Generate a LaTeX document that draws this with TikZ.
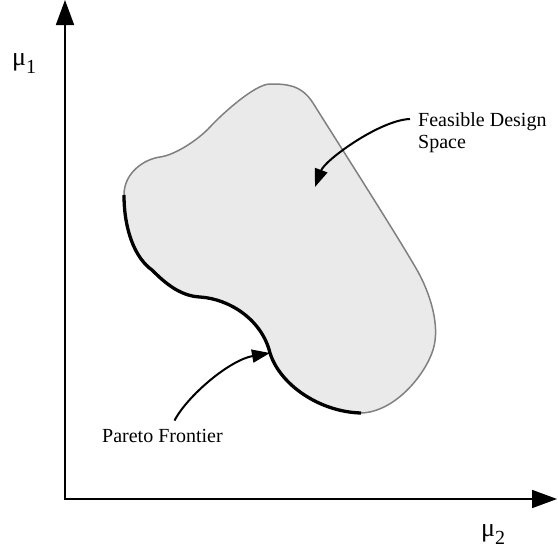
\documentclass[tikz,border=0pt]{standalone}
\usepackage{fontspec}
\setmainfont{Liberation Serif}
\usetikzlibrary{arrows.meta}
\definecolor{blobfill}{RGB}{234,234,234}
\definecolor{blobline}{RGB}{128,128,128}

\newcommand{\axlabel}[1]{{\fontsize{26}{26}\selectfont μ}\raisebox{-8pt}{\fontsize{20}{20}\selectfont #1}}

\begin{document}
\begin{tikzpicture}[x=1pt,y=-1pt,
  axis/.style={line width=1.8pt,{Triangle[length=25pt,width=18pt]}-{Triangle[length=25pt,width=18pt]}},
  outline/.style={draw=blobline,fill=blobfill,line width=1.5pt},
  frontier/.style={line width=3.3pt,line cap=butt},
  callout/.style={line width=2pt,-{Triangle[length=18pt,width=13pt]}},
  lbl/.style={font=\fontsize{20}{22}\selectfont,inner sep=0pt}]
  \useasboundingbox (0,0) rectangle (558,554);

  %--- Axes ---
  \coordinate (origin) at (65,499);
  \coordinate (ytip) at (65,0);
  \coordinate (xtip) at (557,499);
  \draw[axis] (ytip) -- (origin) -- (xtip);
  \node[anchor=base west,inner sep=0pt] (mu1) at (12,65) {\axlabel{1}};
  \node[anchor=base west,inner sep=0pt] (mu2) at (481,536) {\axlabel{2}};

  %--- Feasible region ---
  \coordinate (pa) at (124,195);   % upper end of frontier
  \coordinate (pb) at (361,413);   % lower end of frontier
  \coordinate (kink) at (270,353);
  \path[outline] (pa) .. controls (124,230) and (135,258) .. (152,270)
     .. controls (165,283) and (180,296) .. (200,297)
     .. controls (230,299) and (262,320) .. (kink)
     .. controls (280,385) and (320,412) .. (pb)
     .. controls (395,412) and (425,375) .. (433,350)
     .. controls (441,325) and (429,291) .. (417,270)
     .. controls (397,235) and (333,135) .. (313,103)
     .. controls (301,84) and (285,84) .. (270,84)
     .. controls (255,84) and (222,114) .. (210,127)
     .. controls (198,140) and (175,155) .. (160,157)
     .. controls (145,159) and (124,172) .. cycle;

  %--- Pareto frontier ---
  \draw[frontier] (pa) .. controls (124,230) and (135,258) .. (152,270)
     .. controls (165,283) and (180,296) .. (200,297)
     .. controls (230,299) and (262,320) .. (kink)
     .. controls (280,385) and (320,412) .. (pb);

  %--- Callouts ---
  \node[lbl,anchor=north west,align=left] (fds) at (418,112) {Feasible Design\\Space};
  \node[lbl,anchor=base west] (pf) at (102,442) {Pareto Frontier};
  \coordinate (inside) at (315,187);
  \draw[callout] ([shift={(-8,7)}]fds.north west) .. controls (380,120) and (325,160) .. (inside);
  \draw[callout] ([shift={(12,-8)}]pf.north) .. controls (188,395) and (230,360) .. (kink);
\end{tikzpicture}
\end{document}
